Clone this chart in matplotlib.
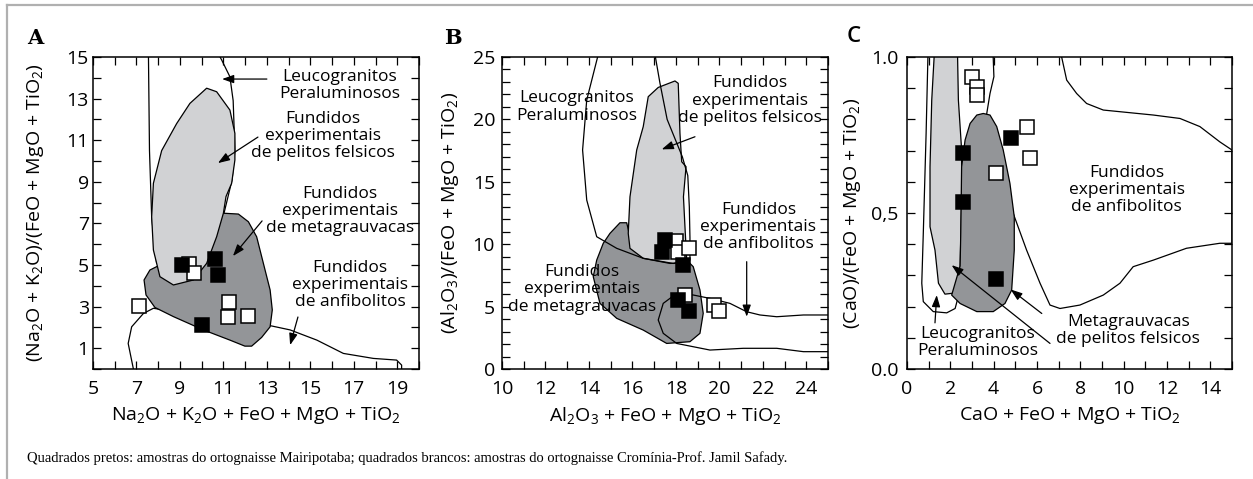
import numpy as np
import matplotlib
matplotlib.use('Agg')
import matplotlib.pyplot as plt
from matplotlib.lines import Line2D

plt.rcParams['font.family'] = ['Open Sans', 'DejaVu Sans']
plt.rcParams['mathtext.fontset'] = 'custom'
plt.rcParams['mathtext.rm'] = 'Open Sans'
plt.rcParams['mathtext.it'] = 'Open Sans'
plt.rcParams['mathtext.default'] = 'regular'

# ---------------- Painel A ----------------
a_preto_x = [9.1, 10.6, 10.75, 10.0]
a_preto_y = [5.0, 5.3, 4.5, 2.1]
a_branco_x = [7.12, 9.4, 9.65, 11.25, 11.2, 12.15]
a_branco_y = [3.05, 5.05, 4.6, 3.2, 2.5, 2.55]

a_pelitos = [(8.70, 4.04), (8.08, 4.44), (7.78, 5.72), (7.70, 7.32), (7.78, 8.93),
             (8.16, 10.5), (8.85, 11.8), (9.46, 12.77), (10.23, 13.5), (10.69, 13.33),
             (11.3, 12.45), (11.53, 11.33), (11.53, 10.05), (11.38, 8.93), (11.12, 8.29),
             (11.0, 7.49), (10.69, 6.36), (10.23, 5.08), (9.62, 4.28)]
a_metagrau = [(11.0, 7.49), (11.69, 7.45), (12.15, 7.08), (12.53, 6.36), (12.84, 5.08),
              (13.15, 3.80), (13.25, 2.84), (13.15, 2.03), (12.76, 1.52), (12.30, 1.10),
              (11.99, 1.10), (11.30, 1.39), (10.08, 1.88), (8.70, 2.52), (7.85, 2.96),
              (7.44, 3.56), (7.35, 4.28), (7.62, 4.76), (8.08, 5.0), (8.7, 5.7)]
a_leuco = [(7.55, 15.3), (7.6, 10.5), (7.7, 7.3), (7.93, 5.08), (9.0, 4.5), (10.8, 6.5),
           (11.17, 8.1), (11.4, 9.1), (11.53, 10.5), (11.45, 12.9), (11.3, 14.05),
           (10.92, 14.86), (10.69, 15.3)]
a_anfib = [(6.86, 0.0), (6.62, 1.23), (6.78, 2.03), (7.32, 2.67), (7.78, 2.92),
           (13.22, 2.07), (14.07, 1.88), (15.3, 1.39), (16.52, 0.75), (17.9, 0.51),
           (18.97, 0.43), (19.2, 0.19), (19.2, 0.0)]

# ---------------- Painel B ----------------
b_preto_x = [17.5, 17.35, 18.31, 18.11, 18.62]
b_preto_y = [10.3, 9.35, 8.33, 5.53, 4.67]
b_branco_x = [18.0, 18.11, 18.6, 18.42, 19.77, 20.0]
b_branco_y = [10.28, 9.4, 9.67, 5.93, 5.13, 4.67]

b_pelitos = [(16.73, 21.82), (17.19, 22.56), (17.96, 23.08), (18.11, 22.89), (18.19, 18.88),
             (18.27, 16.61), (18.47, 16.21), (18.35, 13.8), (18.42, 11.4), (18.5, 8.73),
             (17.88, 8.46), (16.5, 8.87), (15.89, 9.67), (15.81, 10.87), (15.89, 13.8),
             (16.2, 17.55), (16.5, 19.42)]
b_metagrau = [(14.97, 10.87), (15.43, 11.72), (15.74, 11.72), (15.9, 10.5), (18.5, 8.73),
              (18.8, 8.2), (19.11, 6.33), (19.26, 4.46), (19.11, 2.86), (18.65, 2.19),
              (17.58, 2.05), (16.5, 3.12), (15.28, 4.06), (14.51, 5.26), (14.2, 7.4),
              (14.36, 8.73), (14.66, 10.07)]
b_leuco = [(14.43, 25.2), (13.9, 21.55), (13.71, 17.55), (13.9, 13.54), (14.36, 10.6),
           (15.28, 9.67), (16.5, 8.87), (17.73, 8.46), (18.4, 8.5), (18.65, 8.73),
           (18.65, 10.5), (18.62, 13.0), (18.55, 15.5), (18.3, 17.0), (17.6, 20.0),
           (17.27, 22.9), (17.04, 25.2)]
b_anfib = [(25.0, 4.33), (23.87, 4.33), (22.64, 4.19), (21.87, 4.33), (21.26, 4.59),
           (20.49, 5.26), (19.57, 5.66), (18.8, 5.93), (18.04, 6.06), (17.42, 5.26),
           (17.19, 3.93), (17.42, 2.86), (18.04, 2.05), (19.57, 1.52), (21.1, 1.66),
           (22.64, 1.66), (23.87, 1.39), (25.0, 1.39)]

# ---------------- Painel C ----------------
c_preto_x = [4.78, 2.6, 2.57, 4.11]
c_preto_y = [0.742, 0.691, 0.534, 0.288]
c_branco_x = [3.02, 3.25, 3.25, 5.55, 5.68, 4.11]
c_branco_y = [0.935, 0.903, 0.878, 0.775, 0.675, 0.627]

c_pelitos = [(1.29, 1.05), (2.32, 1.05), (2.37, 0.862), (2.52, 0.702), (2.52, 0.54),
             (2.45, 0.328), (2.37, 0.264), (2.14, 0.243), (1.75, 0.24), (1.45, 0.275),
             (1.29, 0.381), (1.06, 0.456), (1.06, 0.648), (1.14, 0.862)]
c_metagrau = [(3.52, 0.819), (3.22, 0.814), (2.91, 0.787), (2.68, 0.734), (2.52, 0.648),
              (2.48, 0.435), (2.45, 0.33), (2.06, 0.237), (2.45, 0.21), (3.22, 0.184),
              (3.98, 0.184), (4.52, 0.21), (4.83, 0.253), (4.95, 0.381), (4.95, 0.488),
              (4.75, 0.595), (4.44, 0.702), (4.14, 0.777), (3.83, 0.814)]
c_leuco = [(0.98, 1.05), (0.88, 0.755), (0.75, 0.435), (0.68, 0.275), (0.75, 0.216),
           (1.21, 0.184), (1.83, 0.18), (2.22, 0.194), (3.0, 0.4), (3.68, 0.819),
           (3.83, 0.883), (4.01, 0.937), (3.95, 1.05)]
c_anfib = [(6.98, 1.05), (7.37, 0.926), (7.83, 0.883), (8.29, 0.851), (9.06, 0.83),
           (11.37, 0.814), (12.6, 0.803), (13.52, 0.777), (14.44, 0.728), (15.0, 0.702),
           (15.0, 0.403), (14.44, 0.403), (12.9, 0.387), (11.37, 0.349), (10.44, 0.328),
           (9.83, 0.275), (9.06, 0.237), (7.98, 0.205), (7.06, 0.194), (6.6, 0.205),
           (6.14, 0.275), (5.52, 0.381), (4.9, 0.499)]

CLARO = '#d1d2d4'
ESCURO = '#939598'


def poligono(ax, pts, cor, z):
    xs, ys = zip(*pts)
    ax.fill(xs, ys, facecolor=cor, edgecolor='black', lw=0.9, zorder=z, joinstyle='round')


def linha(ax, pts, z):
    xs, ys = zip(*pts)
    ax.plot(xs, ys, color='black', lw=0.9, zorder=z, solid_joinstyle='round')


def seta(ax, de, para):
    ax.annotate('', xy=para, xytext=de,
                arrowprops=dict(arrowstyle='-|>,head_length=0.7,head_width=0.25',
                                color='black', lw=0.9, shrinkA=0, shrinkB=0),
                zorder=6)


def texto(ax, x, y, s):
    ax.text(x, y, s, ha='center', va='center', fontsize=12.5, zorder=7,
            linespacing=1.1)


def amostras(ax, px, py, bx, by):
    ax.plot(bx, by, 's', ms=9.5, mfc='white', mec='black', mew=1.1, ls='none', zorder=8)
    ax.plot(px, py, 's', ms=9.5, mfc='black', mec='black', mew=1.1, ls='none', zorder=9)


def eixos(ax, xlim, ylim, xmaj, xmin, ymaj, ymin, ypad):
    ax.set_xlim(*xlim)
    ax.set_ylim(*ylim)
    ax.set_xticks(xmaj)
    ax.set_xticks(xmin, minor=True)
    ax.set_yticks(ymaj)
    ax.set_yticks(ymin, minor=True)
    ax.tick_params(which='both', direction='in', top=True, right=True,
                   length=6, width=0.9, colors='black')
    ax.tick_params(axis='x', which='major', labelsize=14, pad=8)
    ax.tick_params(axis='y', which='major', labelsize=14, pad=ypad)
    for s in ax.spines.values():
        s.set_linewidth(1.1)


fig = plt.figure(figsize=(12.53, 4.79), dpi=100)
bot, h = 0.2296, 0.881 - 0.2296
axA = fig.add_axes([0.0742, bot, 0.2602, h])
axB = fig.add_axes([0.4006, bot, 0.2602, h])
axC = fig.add_axes([0.7239, bot, 0.2593, h])

# ---- A ----
linha(axA, a_leuco, 1)
linha(axA, a_anfib, 1)
poligono(axA, a_metagrau, ESCURO, 2)
poligono(axA, a_pelitos, CLARO, 3)
amostras(axA, a_preto_x, a_preto_y, a_branco_x, a_branco_y)
texto(axA, 16.37, 13.63, 'Leucogranitos\nPeraluminosos')
texto(axA, 15.58, 11.2, 'Fundidos\nexperimentais\nde pelitos felsicos')
texto(axA, 16.37, 7.6, 'Fundidos\nexperimentais\nde metagrauvacas')
texto(axA, 16.83, 4.04, 'Fundidos\nexperimentais\nde anfibolitos')
seta(axA, (13.0, 13.94), (10.94, 13.94))
seta(axA, (12.59, 11.15), (10.75, 9.9))
seta(axA, (12.78, 7.12), (11.44, 5.43))
seta(axA, (14.43, 2.5), (14.07, 1.15))
eixos(axA, (5, 20), (0, 15), range(5, 20, 2), range(6, 21, 2),
      range(1, 16, 2), range(0, 15, 2), 3)
axA.set_xlabel('Na$_2$O + K$_2$O + FeO + MgO + TiO$_2$', fontsize=14)
axA.set_ylabel('(Na$_2$O + K$_2$O)/(FeO + MgO + TiO$_2$)', fontsize=14)
axA.xaxis.set_label_coords(0.5, -0.115)
axA.yaxis.set_label_coords(-0.145, 0.5)

# ---- B ----
poligono(axB, b_metagrau, ESCURO, 2)
poligono(axB, b_pelitos, CLARO, 3)
linha(axB, b_leuco, 4)
linha(axB, b_anfib, 4)
amostras(axB, b_preto_x, b_preto_y, b_branco_x, b_branco_y)
texto(axB, 13.44, 21.0, 'Leucogranitos\nPeraluminosos')
texto(axB, 21.41, 21.5, 'Fundidos\nexperimentais\nde pelitos felsicos')
texto(axB, 21.8, 11.4, 'Fundidos\nexperimentais\nde anfibolitos')
texto(axB, 13.67, 6.38, 'Fundidos\nexperimentais\nde metagrauvacas')
seta(axB, (18.88, 18.61), (17.35, 17.6))
seta(axB, (21.26, 8.6), (21.26, 4.19))
eixos(axB, (10, 25), (0, 25), range(10, 25, 2), range(11, 26, 2),
      range(0, 26, 5), [v for v in range(0, 26) if v % 5], 5)
axB.set_xlabel('Al$_2$O$_3$ + FeO + MgO + TiO$_2$', fontsize=14)
axB.set_ylabel('(Al$_2$O$_3$)/(FeO + MgO + TiO$_2$)', fontsize=14)
axB.xaxis.set_label_coords(0.5, -0.115)
axB.yaxis.set_label_coords(-0.125, 0.5)

# ---- C ----
linha(axC, c_leuco, 1)
linha(axC, c_anfib, 1)
poligono(axC, c_pelitos, CLARO, 2)
poligono(axC, c_metagrau, ESCURO, 3)
amostras(axC, c_preto_x, c_preto_y, c_branco_x, c_branco_y)
texto(axC, 10.14, 0.574, 'Fundidos\nexperimentais\nde anfibolitos')
texto(axC, 10.21, 0.124, 'Metagrauvacas\nde pelitos felsicos')
texto(axC, 3.25, 0.086, 'Leucogranitos\nPeraluminosos')
seta(axC, (1.29, 0.148), (1.37, 0.237))
seta(axC, (6.6, 0.082), (2.06, 0.333))
seta(axC, (6.22, 0.178), (4.78, 0.255))
eixos(axC, (0, 15), (0, 1), range(0, 15, 2), range(1, 16, 2),
      [0.0, 0.5, 1.0], [v / 10 for v in range(11) if v % 5], 6)
axC.set_yticklabels(['0.0', '0,5', '1.0'])
axC.set_xlabel('CaO + FeO + MgO + TiO$_2$', fontsize=14)
axC.set_ylabel('(CaO)/(FeO + MgO + TiO$_2$)', fontsize=14)
axC.xaxis.set_label_coords(0.5, -0.115)
axC.yaxis.set_label_coords(-0.135, 0.5)

# letras dos paineis
fig.text(0.028, 0.921, 'A', fontsize=15, fontweight='bold', family='DejaVu Serif',
         ha='center', va='center')
fig.text(0.3615, 0.921, 'B', fontsize=15, fontweight='bold', family='DejaVu Serif',
         ha='center', va='center')
fig.text(0.681, 0.923, 'C', fontsize=16, fontweight='semibold', ha='center', va='center')

# moldura e legenda
fig.add_artist(Line2D([0.0055, 1.0], [0.989, 0.989], transform=fig.transFigure,
                      color='#b0b0b0', lw=1.6))
fig.add_artist(Line2D([0.0055, 0.0055], [0.0, 0.989], transform=fig.transFigure,
                      color='#b0b0b0', lw=1.6))
fig.text(0.0215, 0.044, 'Quadrados pretos: amostras do ortognaisse Mairipotaba; quadrados '
         'brancos: amostras do ortognaisse Cromínia-Prof. Jamil Safady.',
         fontsize=10.5, family='Liberation Serif', ha='left', va='center')

fig.savefig('out.png', dpi=100)
plt.close(fig)
